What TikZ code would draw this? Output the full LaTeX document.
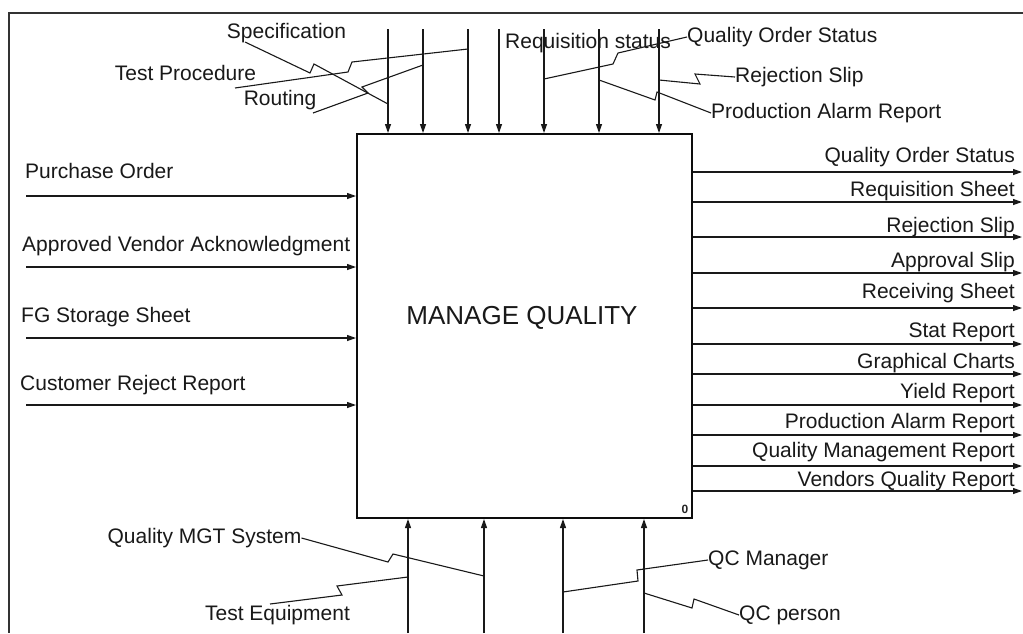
\documentclass[tikz,border=0pt]{standalone}
\usepackage{fontspec}
\setmainfont{Liberation Sans}
\usetikzlibrary{arrows.meta}
\begin{document}
\begin{tikzpicture}[x=1pt,y=-1pt,
  lbl/.style={inner sep=0pt, font=\fontsize{21}{24}\selectfont, text=black!90},
  arr/.style={-{Triangle[length=9pt,width=6pt]}, line width=1.2pt, draw=black!90},
  tilde/.style={line width=1.1pt, draw=black!90},
  ]
\useasboundingbox (0,0) rectangle (1023,633);
\fill[white] (0,0) rectangle (1023,633);
% frame
\coordinate (fa) at (1023,13); \coordinate (fb) at (9,13); \coordinate (fc) at (9,633);
\draw[line width=1.5pt, black!80] (fa) -- (fb) -- (fc);
% main box
\node[draw=black!95, line width=2pt, minimum width=335pt, minimum height=384pt, inner sep=0pt] (box) at (524.5,326) {};
\node[inner sep=0pt, font=\fontsize{26}{30}\selectfont, text=black!90] (title) at (522,318) {MANAGE QUALITY};
\node[inner sep=0pt, font=\fontsize{12}{14}\selectfont\bfseries, text=black!85] (num) at (685,509) {0};

% top (control) arrows
\foreach \i/\x in {1/388,2/423,3/468,4/499,5/544,6/599,7/659}{
  \coordinate (t\i) at (\x,29);
  \draw[arr] (t\i) -- (t\i |- box.north);
}
% left (input) arrows
\foreach \i/\y in {1/196,2/267,3/338,4/405}{
  \coordinate (l\i) at (26,\y);
  \draw[arr] (l\i) -- (l\i -| box.west);
}
% right (output) arrows
\foreach \i/\y in {1/172,2/202,3/237,4/273,5/308,6/344,7/374,8/405,9/435,10/466,11/491}{
  \coordinate (o\i) at (1022,\y);
  \draw[arr] (o\i -| box.east) -- (o\i);
}
% bottom (mechanism) arrows
\foreach \i/\x in {1/408,2/484,3/563,4/644}{
  \coordinate (b\i) at (\x,633);
  \draw[arr] (b\i) -- (b\i |- box.south);
}

% left labels
\node[lbl, anchor=west] (in1) at (25,171) {Purchase Order};
\node[lbl, anchor=west] (in2) at (22,246) {Approved Vendor Acknowledgment};
\node[lbl, anchor=west] (in3) at (21,317) {FG Storage Sheet};
\node[lbl, anchor=west] (in4) at (20,385) {Customer Reject Report};

% right labels
\node[lbl, anchor=east] (out1) at (1015,157) {Quality Order Status};
\node[lbl, anchor=east] (out2) at (1015,191) {Requisition Sheet};
\node[lbl, anchor=east] (out3) at (1015,227) {Rejection Slip};
\node[lbl, anchor=east] (out4) at (1015,262) {Approval Slip};
\node[lbl, anchor=east] (out5) at (1015,293) {Receiving Sheet};
\node[lbl, anchor=east] (out6) at (1015,332) {Stat Report};
\node[lbl, anchor=east] (out7) at (1015,363) {Graphical Charts};
\node[lbl, anchor=east] (out8) at (1015,393) {Yield Report};
\node[lbl, anchor=east] (out9) at (1015,423) {Production Alarm Report};
\node[lbl, anchor=east] (out10) at (1015,452) {Quality Management Report};
\node[lbl, anchor=east] (out11) at (1015,481) {Vendors Quality Report};

% top labels
\node[lbl] (spec) at (286.5,33) {Specification};
\node[lbl] (testp) at (185.5,73) {Test Procedure};
\node[lbl] (rout) at (280,100) {Routing};
\node[lbl, anchor=west] (reqs) at (505,43) {Requisition status};
\node[lbl, anchor=west] (qos) at (687,37) {Quality Order Status};
\node[lbl, anchor=west] (rejs) at (735,77) {Rejection Slip};
\node[lbl, anchor=west] (par) at (711,113) {Production Alarm Report};

% bottom labels
\node[lbl] (qmgt) at (204.5,538) {Quality MGT System};
\node[lbl] (teq) at (277.5,615) {Test Equipment};
\node[lbl, anchor=west] (qcm) at (708,560) {QC Manager};
\node[lbl, anchor=west] (qcp) at (739,615) {QC person};

% squiggle connectors (top)
\coordinate (sA) at (245,42);  \coordinate (sB) at (388,104);
\draw[tilde] (sA) -- (310,73) -- (314,64) -- (sB);
\coordinate (tA) at (235,88);  \coordinate (tB) at (468,49);
\draw[tilde] (tA) -- (348,72) -- (352,62) -- (tB);
\coordinate (rA) at (313,113); \coordinate (rB) at (423,65);
\draw[tilde] (rA) -- (368,93) -- (362,87) -- (rB);
\coordinate (qA) at (544,79);
\draw[tilde] (qA) -- (613,64) -- (618,53) -- (qos.west);
\coordinate (pA) at (599,80);
\draw[tilde] (pA) -- (655,100) -- (657,92) -- (par.west);
\coordinate (jA) at (659,80);
\draw[tilde] (jA) -- (700,84) -- (695,74) -- (rejs.west);

% squiggle connectors (bottom)
\coordinate (mA) at (484,576);
\draw[tilde] (qmgt.east) -- (388,562) -- (393,554) -- (mA);
\coordinate (eA) at (270,604); \coordinate (eB) at (408,577);
\draw[tilde] (eA) -- (342,595) -- (337,586) -- (eB);
\coordinate (cA) at (563,592);
\draw[tilde] (cA) -- (638,581) -- (637,570) -- (qcm.west);
\coordinate (dA) at (644,593);
\draw[tilde] (dA) -- (692,608) -- (694,599) -- (qcp.west);
\end{tikzpicture}
\end{document}
